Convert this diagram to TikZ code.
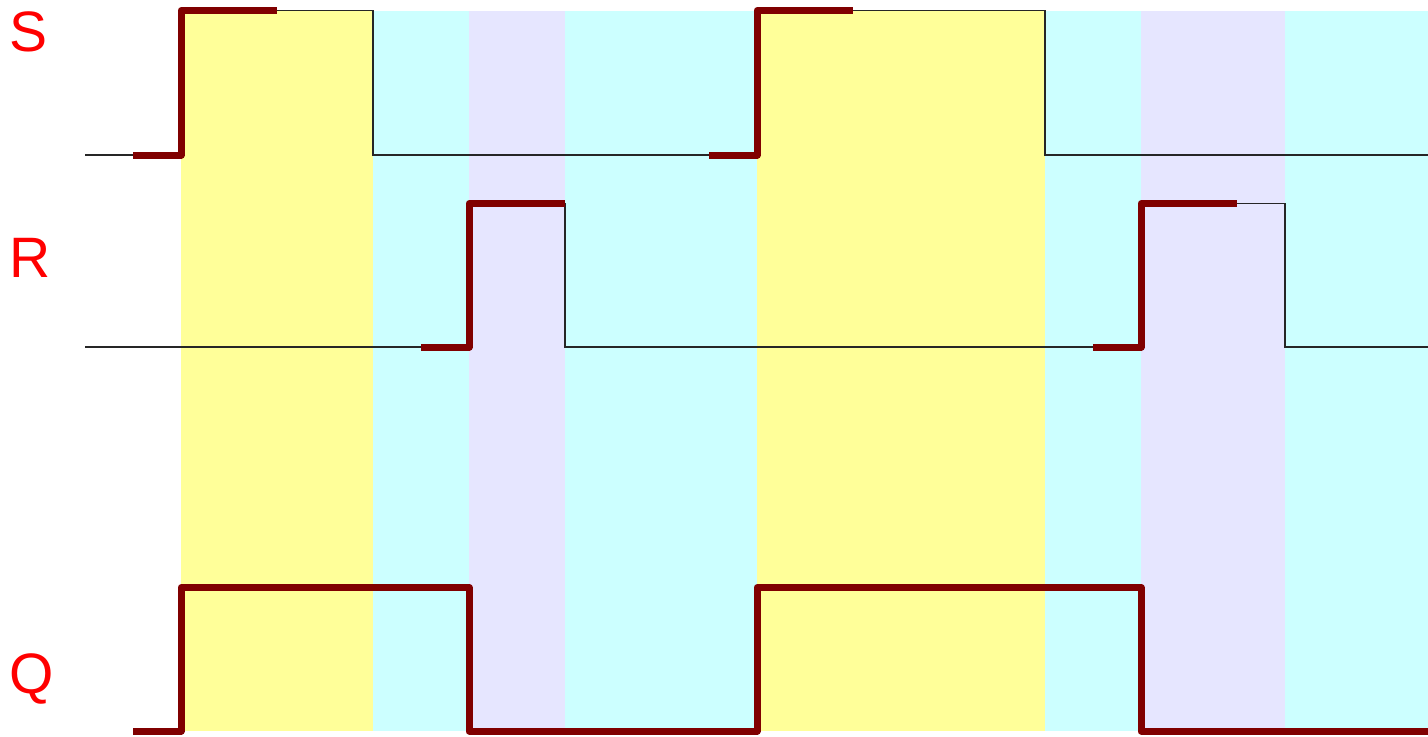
\documentclass[tikz,border=0pt]{standalone}
\usepackage{fontspec}
\setmainfont{Liberation Sans}
\definecolor{bgyellow}{HTML}{FFFF99}
\definecolor{bgcyan}{HTML}{CCFFFF}
\definecolor{bglav}{HTML}{E6E6FF}
\definecolor{sigred}{HTML}{800000}
\begin{document}
\begin{tikzpicture}[x=0.5pt,y=-0.5pt,
  thinsig/.style={draw=black!85,line width=0.6pt},
  thicksig/.style={draw=sigred,line width=3.5pt,line join=round,line cap=butt},
  siglabel/.style={text=red,anchor=base west,inner sep=0pt,font=\fontsize{28.5}{34}\selectfont}]
\useasboundingbox (0,0) rectangle (1428,736);
% background bands
\fill[bgyellow] (181,11) rectangle (373,731);
\fill[bgcyan]   (373,11) rectangle (469,731);
\fill[bglav]    (469,11) rectangle (565,731);
\fill[bgcyan]   (565,11) rectangle (757,731);
\fill[bgyellow] (757,11) rectangle (1045,731);
\fill[bgcyan]   (1045,11) rectangle (1141,731);
\fill[bglav]    (1141,11) rectangle (1285,731);
\fill[bgcyan]   (1285,11) rectangle (1428,731);
% labels
\node[siglabel] (lS) at (9.5,51) {S};
\node[siglabel] (lR) at (9.5,277.3) {R};
\node[siglabel] (lQ) at (9.5,693) {Q};
% S signal
\draw[thinsig] (85,155) -- (181,155) -- (181,10.5) -- (373,10.5) -- (373,155) -- (757,155) -- (757,10.5) -- (1045,10.5) -- (1045,155) -- (1428,155);
\draw[thicksig] (133,155) -- (181,155) -- (181,10.5) -- (277,10.5);
\draw[thicksig] (709,155) -- (757,155) -- (757,10.5) -- (853,10.5);
% R signal
\draw[thinsig] (85,347) -- (469,347) -- (469,203.5) -- (565,203.5) -- (565,347) -- (1141,347) -- (1141,203.5) -- (1285,203.5) -- (1285,347) -- (1428,347);
\draw[thicksig] (421,347) -- (469,347) -- (469,203.5) -- (565,203.5);
\draw[thicksig] (1093,347) -- (1141,347) -- (1141,203.5) -- (1237,203.5);
% Q signal
\draw[thicksig] (133,731) -- (181,731) -- (181,587.5) -- (469,587.5) -- (469,731) -- (709,731);
\draw[thicksig] (709,731) -- (757,731) -- (757,587.5) -- (1141,587.5) -- (1141,731) -- (1428,731);
\end{tikzpicture}
\end{document}
